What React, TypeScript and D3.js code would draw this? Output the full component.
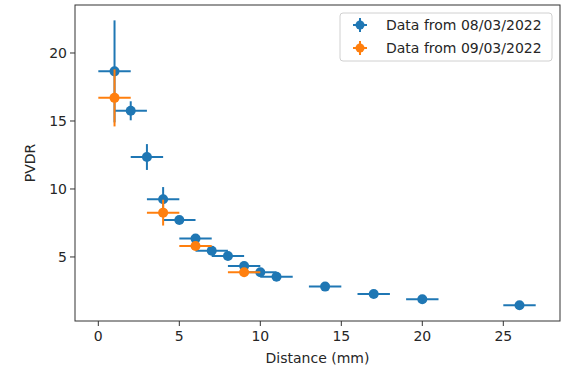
import React from 'react';
import * as d3 from 'd3';

const blueX = [1, 2, 3, 4, 5, 6, 7, 8, 9, 10, 11, 14, 17, 20, 26];
const blueY = [18.65, 15.75, 12.35, 9.24, 7.72, 6.35, 5.46, 5.07, 4.34, 3.87, 3.55, 2.82, 2.28, 1.89, 1.45];
const blueYErr = [3.75, 0.7, 0.95, 0.9, 0.25, 0.3, 0.3, 0.25, 0.3, 0.25, 0.2, 0.2, 0.15, 0.15, 0.15];

const orangeX = [1, 4, 6, 9];
const orangeY = [16.7, 8.26, 5.81, 3.87];
const orangeYErr = [2.1, 0.95, 0.3, 0.3];

const X_ERR = 1;
const xTicks = [0, 5, 10, 15, 20, 25];
const yTicks = [5, 10, 15, 20];

const series = [
  { label: 'Data from 08/03/2022', color: '#1f77b4', xs: blueX, ys: blueY, yerr: blueYErr },
  { label: 'Data from 09/03/2022', color: '#ff7f0e', xs: orangeX, ys: orangeY, yerr: orangeYErr },
];

const W = 568;
const H = 369;
const left = 75, right = 560, top = 5, bottom = 321;
const font = 'DejaVu Sans, sans-serif';
const fs = 14;

export default function App() {
  const x = d3.scaleLinear().domain([-1.44, 28.5]).range([left, right]);
  const y = d3.scaleLinear().domain([0.29, 23.53]).range([bottom, top]);

  return (
    <svg width={W} height={H} style={{ position: 'absolute', left: 0, top: 0, background: '#fff' }}>
      {/* errorbars + markers */}
      {series.map(s => (
        <g key={s.label}>
          {s.xs.map((xv, i) => (
            <g key={i} stroke={s.color} strokeWidth={2}>
              <line x1={x(xv - X_ERR)} x2={x(xv + X_ERR)} y1={y(s.ys[i])} y2={y(s.ys[i])} />
              <line x1={x(xv)} x2={x(xv)} y1={y(s.ys[i] - s.yerr[i])} y2={y(s.ys[i] + s.yerr[i])} />
            </g>
          ))}
          {s.xs.map((xv, i) => (
            <circle key={'c' + i} cx={x(xv)} cy={y(s.ys[i])} r={5} fill={s.color} />
          ))}
        </g>
      ))}

      {/* frame */}
      <rect x={left} y={top} width={right - left} height={bottom - top} fill="none" stroke="#333" strokeWidth={1} />

      {/* x axis */}
      {xTicks.map(t => (
        <g key={t}>
          <line x1={x(t)} x2={x(t)} y1={bottom} y2={bottom + 5} stroke="#333" />
          <text x={x(t)} y={bottom + 20} textAnchor="middle" fontFamily={font} fontSize={fs} fill="#262626">{t}</text>
        </g>
      ))}
      <text x={(left + right) / 2} y={bottom + 42} textAnchor="middle" fontFamily={font} fontSize={fs} fill="#262626">Distance (mm)</text>

      {/* y axis */}
      {yTicks.map(t => (
        <g key={t}>
          <line x1={left - 5} x2={left} y1={y(t)} y2={y(t)} stroke="#333" />
          <text x={left - 8} y={y(t)} dy="0.35em" textAnchor="end" fontFamily={font} fontSize={fs} fill="#262626">{t}</text>
        </g>
      ))}
      <text transform={`translate(35,${(top + bottom) / 2}) rotate(-90)`} textAnchor="middle" fontFamily={font} fontSize={fs} fill="#262626">PVDR</text>

      {/* legend */}
      <rect x={340} y={13} width={212} height={48} rx={3} fill="#fff" fillOpacity={0.8} stroke="#d0d0d0" />
      {series.map((s, i) => {
        const ly = 25 + i * 23;
        return (
          <g key={s.label}>
            <line x1={353} x2={367} y1={ly} y2={ly} stroke={s.color} strokeWidth={2} />
            <line x1={360} x2={360} y1={ly - 7} y2={ly + 7} stroke={s.color} strokeWidth={2} />
            <circle cx={360} cy={ly} r={4.5} fill={s.color} />
            <text x={386} y={ly} dy="0.35em" fontFamily={font} fontSize={fs} fill="#262626">{s.label}</text>
          </g>
        );
      })}
    </svg>
  );
}
